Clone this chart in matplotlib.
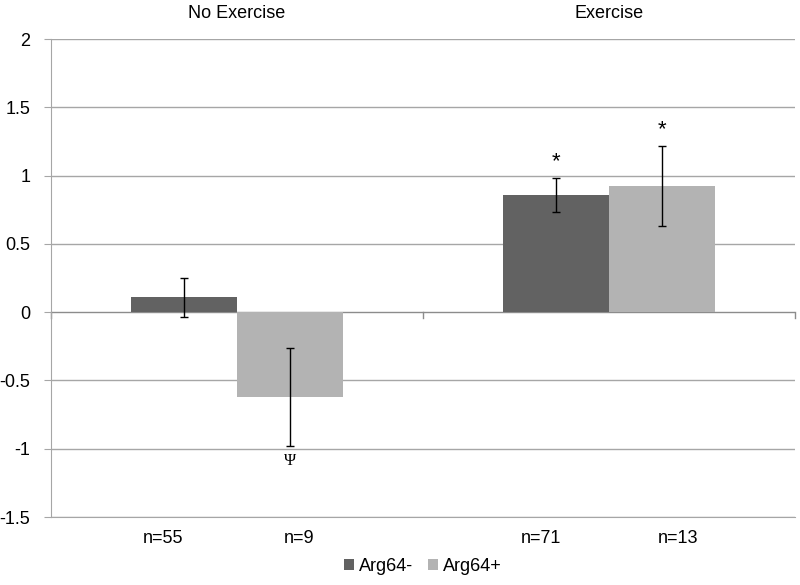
import matplotlib
matplotlib.use("Agg")
import matplotlib.pyplot as plt
import numpy as np

plt.rcParams['font.family'] = ['Liberation Sans', 'DejaVu Sans']

groups = ["No Exercise", "Exercise"]
series = ["Arg64-", "Arg64+"]
values = {"Arg64-": [0.108, 0.857], "Arg64+": [-0.62, 0.923]}
errors = {"Arg64-": [0.144, 0.127], "Arg64+": [0.357, 0.295]}
n_labels = {"Arg64-": ["n=55", "n=71"], "Arg64+": ["n=9", "n=13"]}
colors = {"Arg64-": "#626262", "Arg64+": "#b3b3b3"}
annotations = {"Arg64-": ["", "*"], "Arg64+": ["Ψ", "*"]}
# horizontal placement of the n= labels relative to each group centre (layout)
n_label_offsets = {"Arg64-": [-0.20, -0.183], "Arg64+": [0.167, 0.185]}

fig = plt.figure(figsize=(8, 5.85), dpi=100)
ax = fig.add_axes([0.06375, 0.1162, 0.93, 0.8171])

x = np.arange(len(groups))
w = 0.285
offsets = {"Arg64-": -w / 2, "Arg64+": w / 2}
grid_c = "#a6a6a6"

for yv in np.arange(-1.5, 2.01, 0.5):
    if abs(yv) > 1e-9:
        ax.axhline(yv, color=grid_c, lw=1.0, zorder=0)

for s in series:
    xs = x + offsets[s]
    ax.bar(xs, values[s], width=w, color=colors[s], label=s, zorder=2)
    ax.errorbar(xs, values[s], yerr=errors[s], fmt='none', ecolor='black',
                elinewidth=1.0, capsize=3, capthick=1.0, zorder=3)
    for xi, v, e, a in zip(xs, values[s], errors[s], annotations[s]):
        if a == "*":
            ax.text(xi, v + e + 0.04, a, ha='center', va='bottom', fontsize=16)
        elif a:
            ax.text(xi, v - e - 0.11, a, ha='center', va='center', fontsize=12,
                    family=['Liberation Serif', 'DejaVu Serif'])
    for xc, lab, off in zip(x, n_labels[s], n_label_offsets[s]):
        ax.text(xc + off, -0.044, lab, transform=ax.get_xaxis_transform(),
                ha='center', va='center', fontsize=13)

ax.axhline(0, color="#8c8c8c", lw=1.0, zorder=1)
for xt in [-0.5, 0.5, 1.5]:
    ax.plot([xt, xt], [0, -0.045], color="#8c8c8c", lw=1.0, clip_on=False, zorder=1)

ax.set_xlim(-0.5, 1.5)
ax.set_ylim(-1.5, 2)
ax.set_yticks(np.arange(-1.5, 2.01, 0.5))
ax.set_yticklabels(["-1.5", "-1", "-0.5", "0", "0.5", "1", "1.5", "2"])
ax.tick_params(axis='y', length=5, color=grid_c, labelsize=13, pad=10)

ax.set_xticks([])

for sp in ['top', 'right']:
    ax.spines[sp].set_visible(False)
ax.spines['left'].set_color(grid_c)
ax.spines['bottom'].set_color(grid_c)

sec = ax.secondary_xaxis('top')
sec.set_xticks(x)
sec.set_xticklabels(groups)
sec.tick_params(length=0, labelsize=13, pad=12)
sec.spines['top'].set_visible(False)

ax.legend(loc='center', bbox_to_anchor=(0.5, -0.103), ncol=2, frameon=False,
          fontsize=13, handlelength=0.55, handleheight=0.55, handletextpad=0.28,
          columnspacing=0.8)

fig.savefig("out.png", dpi=100, facecolor='white')
